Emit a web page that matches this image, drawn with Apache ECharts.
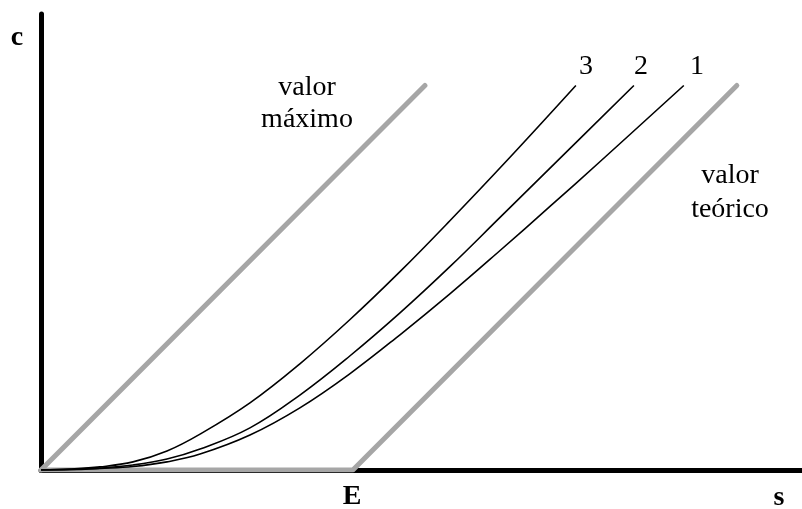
<!DOCTYPE html>
<html>
<head>
<meta charset="utf-8">
<script src="https://cdn.jsdelivr.net/npm/echarts@6/dist/echarts.min.js"></script>
<style>
  html, body { margin: 0; padding: 0; background: #fff; }
  #chart { width: 802px; height: 509px; }
</style>
</head>
<body>
<div id="chart"></div>
<script>
// units: E = 10 on the s axis, same scale on both axes
const xMax = 24.4
const yMax = 14.6
const E = 10

// grey reference lines
const valorMaximo = [[0, 0], [12.31, 12.31]]
const valorTeorico = [[0, 0], [E, 0], [22.31, 12.31]]

// black curves 1, 2, 3
const curve1 = [[0, 0], [0.93, 0.01], [1.89, 0.05], [2.95, 0.11], [4.04, 0.26], [5.10, 0.51], [6.70, 1.12], [8.30, 1.99], [9.90, 3.08], [11.51, 4.33], [13.11, 5.64], [14.71, 7.02], [16.31, 8.43], [17.92, 9.87], [20.61, 12.31]]
const curve2 = [[0, 0], [0.93, 0.02], [1.89, 0.06], [2.95, 0.16], [4.04, 0.35], [5.10, 0.67], [6.70, 1.35], [8.30, 2.40], [9.90, 3.65], [11.51, 5.03], [13.11, 6.51], [14.71, 8.08], [16.63, 9.97], [19.01, 12.31]]
const curve3 = [[0, 0], [0.93, 0.03], [1.89, 0.10], [2.95, 0.26], [4.04, 0.61], [5.10, 1.15], [6.70, 2.15], [8.30, 3.40], [9.90, 4.81], [11.51, 6.35], [13.11, 7.98], [14.97, 9.94], [17.15, 12.31]]

const curveNames = ['1', '2', '3']

const chart = echarts.init(document.getElementById('chart'))

const grey = '#a6a6a6'
const serif = '"Liberation Serif", "Times New Roman", serif'

function greyLine(data) {
  return {
    type: 'line',
    data: data,
    symbol: 'none',
    silent: true,
    z: 3,
    lineStyle: { color: grey, width: 5, cap: 'round', join: 'round' }
  }
}

function blackCurve(name, data) {
  return {
    name: name,
    type: 'line',
    data: data,
    symbol: 'none',
    smooth: 0.4,
    silent: true,
    z: 4,
    lineStyle: { color: '#000', width: 1.6 }
  }
}

chart.setOption({
  animation: false,
  grid: { left: 41, top: 14, right: 0, bottom: 39 },
  xAxis: {
    type: 'value',
    min: 0,
    max: xMax,
    axisLine: { lineStyle: { color: '#000', width: 5 } },
    axisTick: { show: false },
    axisLabel: { show: false },
    splitLine: { show: false }
  },
  yAxis: {
    type: 'value',
    min: 0,
    max: yMax,
    axisLine: { show: true, lineStyle: { color: '#000', width: 5 } },
    axisTick: { show: false },
    axisLabel: { show: false },
    splitLine: { show: false }
  },
  series: [
    greyLine(valorMaximo),
    greyLine(valorTeorico),
    blackCurve(curveNames[0], curve1),
    blackCurve(curveNames[1], curve2),
    blackCurve(curveNames[2], curve3)
  ],
  graphic: [
    { type: 'text', style: { text: 'c', x: 17, y: 38, align: 'center', verticalAlign: 'middle', font: 'bold 28px ' + serif, fill: '#000' } },
    { type: 'text', style: { text: 'E', x: 352, y: 497, align: 'center', verticalAlign: 'middle', font: 'bold 28px ' + serif, fill: '#000' } },
    { type: 'text', style: { text: 's', x: 779, y: 498, align: 'center', verticalAlign: 'middle', font: 'bold 28px ' + serif, fill: '#000' } },
    { type: 'text', style: { text: '3', x: 586, y: 67, align: 'center', verticalAlign: 'middle', font: '28px ' + serif, fill: '#000' } },
    { type: 'text', style: { text: '2', x: 641, y: 67, align: 'center', verticalAlign: 'middle', font: '28px ' + serif, fill: '#000' } },
    { type: 'text', style: { text: '1', x: 697, y: 67, align: 'center', verticalAlign: 'middle', font: '28px ' + serif, fill: '#000' } },
    { type: 'text', style: { text: 'valor\nmáximo', x: 307, y: 104, align: 'center', verticalAlign: 'middle', lineHeight: 32, font: '28px ' + serif, fill: '#000' } },
    { type: 'text', style: { text: 'valor\nteórico', x: 730, y: 193, align: 'center', verticalAlign: 'middle', lineHeight: 34, font: '28px ' + serif, fill: '#000' } }
  ]
})
</script>
</body>
</html>
